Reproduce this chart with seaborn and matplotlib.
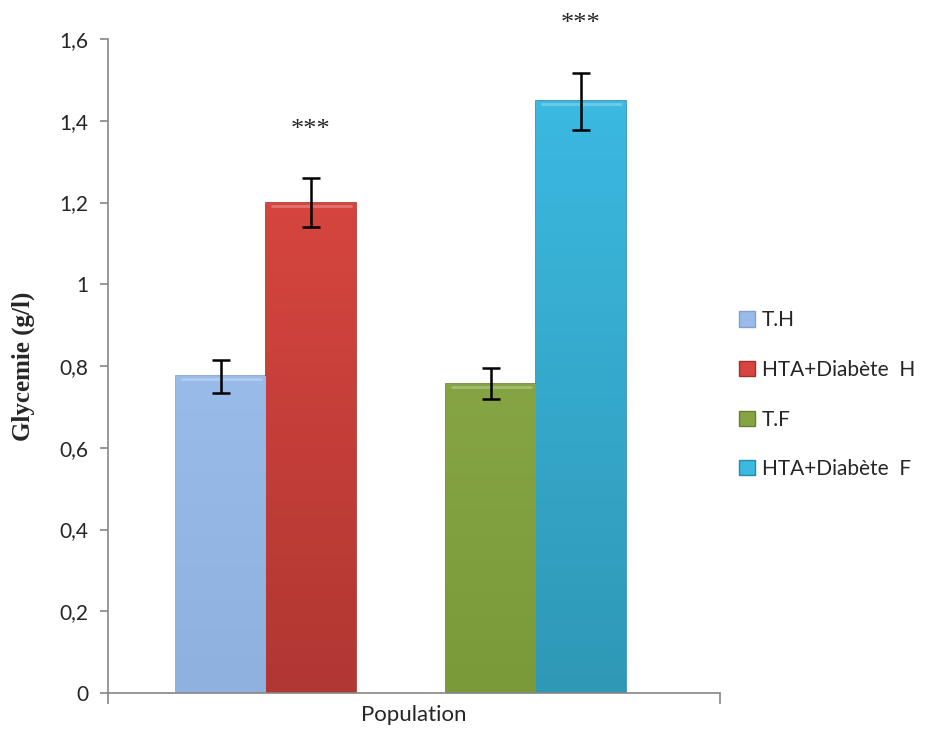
import matplotlib
matplotlib.use("Agg")
import matplotlib.pyplot as plt
from matplotlib.patches import Patch
from matplotlib.colors import to_rgb
import seaborn as sns
import pandas as pd
import numpy as np

# ---- data ----
series = ["T.H", "HTA+Diabète  H", "T.F", "HTA+Diabète  F"]
values = [0.775, 1.20, 0.757, 1.448]
errors = [0.040, 0.060, 0.038, 0.070]
stars = ["", "***", "", "***"]
category = "Population"
yticks = [0, 0.2, 0.4, 0.6, 0.8, 1.0, 1.2, 1.4, 1.6]
ytick_labels = ["0", "0,2", "0,4", "0,6", "0,8", "1", "1,2", "1,4", "1,6"]

colors = ["#98bbea", "#d6453f", "#86a444", "#3bb9e0"]
bottoms = ["#8fb1e0", "#b13732", "#7a9a3a", "#2f98b6"]
edges = ["#7f9fcc", "#9e302c", "#677f33", "#2a8aaa"]
spacer = " "

sns.set_style("white")
plt.rcParams["font.family"] = ["Lato", "DejaVu Sans"]

df = pd.DataFrame({"cat": [category] * len(series), "serie": series, "val": values})
hue_order = series[:2] + [spacer] + series[2:]
palette = dict(zip(series, colors))
palette[spacer] = "#ffffff"

fig = plt.figure(figsize=(9.31, 7.40), dpi=100)
ax = fig.add_axes([108 / 931, 47 / 740, 612 / 931, 654 / 740])

sns.barplot(data=df, x="cat", y="val", hue="serie", hue_order=hue_order,
            palette=palette, width=0.8, errorbar=None, legend=False,
            saturation=1, ax=ax)

ax.set_ylim(0, 1.6)
ax.set_xlim(-0.521, 0.567)

bars = sorted([p for p in ax.patches if p.get_height() > 0], key=lambda p: p.get_x())
for p, c, b, ec in zip(bars, colors, bottoms, edges):
    p.set_edgecolor(ec)
    p.set_linewidth(1.2)
    x0, w, h = p.get_x(), p.get_width(), p.get_height()
    t = np.linspace(0, 1, 64)[:, None, None]
    grad = (1 - t) * np.array(to_rgb(b)) + t * np.array(to_rgb(c))
    img = ax.imshow(grad, extent=(x0, x0 + w, 0, h), origin="lower",
                    aspect="auto", zorder=p.get_zorder() + 0.1)
    img.set_clip_path(p)
    ax.plot([x0 + w * 0.05, x0 + w * 0.95], [h - 0.008, h - 0.008],
            color="white", alpha=0.25, lw=2, zorder=p.get_zorder() + 0.2,
            solid_capstyle="butt")

xs = [p.get_x() + p.get_width() / 2 for p in bars]
ax.errorbar(xs, values, yerr=errors, fmt="none", ecolor="black",
            elinewidth=1.8, capsize=6.5, capthick=1.8, zorder=5)
for x, v, e, s in zip(xs, values, errors, stars):
    if s:
        ax.text(x, v + e + 0.118, s, ha="center", va="center",
                fontsize=19, family="Liberation Serif", clip_on=False)

ax.set_xlim(-0.521, 0.567)
ax.set_ylim(0, 1.6)
ax.set_yticks(yticks)
ax.set_yticklabels(ytick_labels, fontsize=15)
ax.set_xticks([])
ax.set_xticks([-0.521, 0.567], minor=True)
ax.tick_params(axis="x", which="minor", bottom=True, direction="out", length=8,
               color="#868686", width=1.2)
ax.tick_params(axis="y", direction="out", length=6, color="#868686", width=1.2,
               pad=8, left=True)
ax.set_xlabel(category, fontsize=16, labelpad=-3)
ax.set_ylabel("Glycemie (g/l)", fontsize=18, fontweight="bold",
              family="Liberation Serif", labelpad=18)

for side in ["top", "right"]:
    ax.spines[side].set_visible(False)
for side in ["left", "bottom"]:
    ax.spines[side].set_color("#868686")
    ax.spines[side].set_linewidth(1.2)

handles = [Patch(facecolor=c, edgecolor=e, label=s) for c, e, s in zip(colors, edges, series)]
fig.legend(handles=handles, loc="upper left", bbox_to_anchor=(731 / 931, 1 - 302 / 740),
           frameon=False, fontsize=15, labelspacing=1.42, handlelength=0.75,
           handleheight=0.75, handletextpad=0.35, borderaxespad=0)

fig.savefig("out.png", dpi=100)
